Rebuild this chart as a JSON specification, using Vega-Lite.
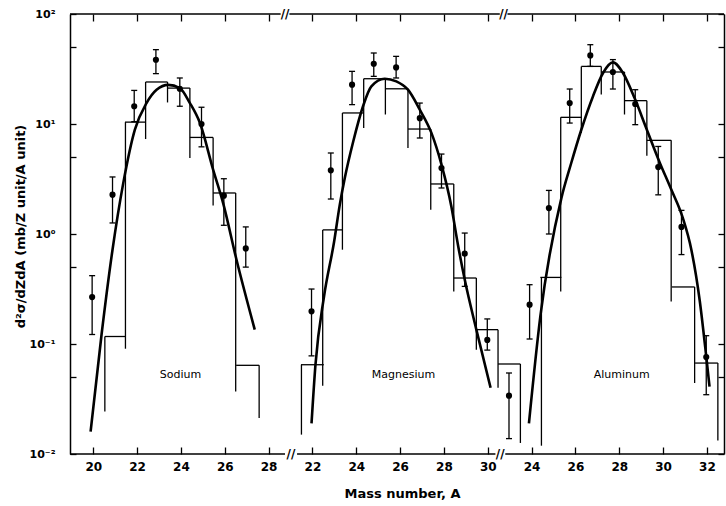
{
  "$schema": "https://vega.github.io/schema/vega-lite/v6.json",
  "width": 654,
  "height": 440,
  "autosize": {"type": "none"},
  "padding": {"left": 70, "top": 14, "right": 2, "bottom": 52},
  "background": "white",
  "config": {
    "view": {"stroke": null},
    "axis": {"domainColor": "black", "tickColor": "black", "labelColor": "black", "titleColor": "black", "grid": false}
  },
  "datasets": {
    "hist": [
      {"panel": "Sodium", "x1": 20.53, "x2": 21.49, "v": 0.117},
      {"panel": "Sodium", "x1": 21.45, "x2": 22.39, "v": 10.4},
      {"panel": "Sodium", "x1": 22.39, "x2": 23.39, "v": 24.1},
      {"panel": "Sodium", "x1": 23.39, "x2": 24.41, "v": 21.2},
      {"panel": "Sodium", "x1": 24.41, "x2": 25.47, "v": 7.55},
      {"panel": "Sodium", "x1": 25.47, "x2": 26.5, "v": 2.36},
      {"panel": "Sodium", "x1": 26.52, "x2": 27.57, "v": 0.064},
      {"panel": "Magnesium", "x1": 29.48, "x2": 30.52, "v": 0.0648},
      {"panel": "Magnesium", "x1": 30.47, "x2": 31.37, "v": 1.09},
      {"panel": "Magnesium", "x1": 31.37, "x2": 32.34, "v": 12.6},
      {"panel": "Magnesium", "x1": 32.34, "x2": 33.33, "v": 25.8},
      {"panel": "Magnesium", "x1": 33.33, "x2": 34.36, "v": 20.9},
      {"panel": "Magnesium", "x1": 34.36, "x2": 35.4, "v": 9.0},
      {"panel": "Magnesium", "x1": 35.4, "x2": 36.45, "v": 2.85},
      {"panel": "Magnesium", "x1": 36.45, "x2": 37.48, "v": 0.398},
      {"panel": "Magnesium", "x1": 37.48, "x2": 38.47, "v": 0.135},
      {"panel": "Magnesium", "x1": 38.47, "x2": 39.49, "v": 0.0658},
      {"panel": "Aluminum", "x1": 40.4, "x2": 41.36, "v": 0.403},
      {"panel": "Aluminum", "x1": 41.33, "x2": 42.27, "v": 11.5},
      {"panel": "Aluminum", "x1": 42.27, "x2": 43.18, "v": 33.4},
      {"panel": "Aluminum", "x1": 43.18, "x2": 44.24, "v": 29.7},
      {"panel": "Aluminum", "x1": 44.24, "x2": 45.26, "v": 16.3},
      {"panel": "Aluminum", "x1": 45.26, "x2": 46.37, "v": 7.1},
      {"panel": "Aluminum", "x1": 46.4, "x2": 47.44, "v": 0.33},
      {"panel": "Aluminum", "x1": 47.46, "x2": 48.5, "v": 0.0671}
    ],
    "legs": [
      {"panel": "Sodium", "x": 20.53, "top": 0.117, "bottom": 0.0244},
      {"panel": "Sodium", "x": 21.47, "top": 10.4, "bottom": 0.0906},
      {"panel": "Sodium", "x": 22.39, "top": 24.1, "bottom": 7.3},
      {"panel": "Sodium", "x": 23.39, "top": 24.1, "bottom": 15.7},
      {"panel": "Sodium", "x": 24.41, "top": 21.2, "bottom": 4.9},
      {"panel": "Sodium", "x": 25.47, "top": 7.55, "bottom": 1.82},
      {"panel": "Sodium", "x": 26.5, "top": 2.36, "bottom": 0.037},
      {"panel": "Sodium", "x": 27.57, "top": 0.064, "bottom": 0.0212},
      {"panel": "Magnesium", "x": 29.5, "top": 0.0648, "bottom": 0.015},
      {"panel": "Magnesium", "x": 30.47, "top": 1.09, "bottom": 0.0418},
      {"panel": "Magnesium", "x": 31.37, "top": 12.6, "bottom": 0.72},
      {"panel": "Magnesium", "x": 32.34, "top": 25.8, "bottom": 9.2},
      {"panel": "Magnesium", "x": 33.33, "top": 25.8, "bottom": 12.2},
      {"panel": "Magnesium", "x": 34.36, "top": 20.9, "bottom": 6.05},
      {"panel": "Magnesium", "x": 35.4, "top": 9.0, "bottom": 1.66},
      {"panel": "Magnesium", "x": 36.45, "top": 2.85, "bottom": 0.3},
      {"panel": "Magnesium", "x": 37.48, "top": 0.398, "bottom": 0.0887},
      {"panel": "Magnesium", "x": 38.47, "top": 0.135, "bottom": 0.04},
      {"panel": "Magnesium", "x": 39.49, "top": 0.0658, "bottom": 0.0126},
      {"panel": "Aluminum", "x": 40.45, "top": 0.403, "bottom": 0.0119},
      {"panel": "Aluminum", "x": 41.33, "top": 11.5, "bottom": 0.3},
      {"panel": "Aluminum", "x": 42.27, "top": 33.4, "bottom": 8.3},
      {"panel": "Aluminum", "x": 43.18, "top": 33.4, "bottom": 18.5},
      {"panel": "Aluminum", "x": 44.24, "top": 29.7, "bottom": 12.2},
      {"panel": "Aluminum", "x": 45.26, "top": 16.3, "bottom": 5.15},
      {"panel": "Aluminum", "x": 46.37, "top": 7.1, "bottom": 0.244},
      {"panel": "Aluminum", "x": 47.44, "top": 0.33, "bottom": 0.0442},
      {"panel": "Aluminum", "x": 48.5, "top": 0.0671, "bottom": 0.0133}
    ],
    "pts": [
      {"panel": "Sodium", "x": 19.95, "v": 0.267, "lo": 0.122, "hi": 0.418},
      {"panel": "Sodium", "x": 20.88, "v": 2.28, "lo": 1.26, "hi": 3.3},
      {"panel": "Sodium", "x": 21.87, "v": 14.5, "lo": 10.5, "hi": 20.2},
      {"panel": "Sodium", "x": 22.86, "v": 38.4, "lo": 28.7, "hi": 47.4},
      {"panel": "Sodium", "x": 23.95, "v": 20.9, "lo": 14.5, "hi": 26.2},
      {"panel": "Sodium", "x": 24.94, "v": 10.0, "lo": 6.2, "hi": 14.2},
      {"panel": "Sodium", "x": 25.96, "v": 2.23, "lo": 1.2, "hi": 3.18},
      {"panel": "Sodium", "x": 26.96, "v": 0.74, "lo": 0.5, "hi": 1.16},
      {"panel": "Magnesium", "x": 29.96, "v": 0.198, "lo": 0.078, "hi": 0.316},
      {"panel": "Magnesium", "x": 30.84, "v": 3.79, "lo": 2.08, "hi": 5.45},
      {"panel": "Magnesium", "x": 31.81, "v": 22.8, "lo": 15.0, "hi": 30.1},
      {"panel": "Magnesium", "x": 32.8, "v": 35.3, "lo": 27.1, "hi": 44.2},
      {"panel": "Magnesium", "x": 33.82, "v": 32.7, "lo": 26.2, "hi": 41.2},
      {"panel": "Magnesium", "x": 34.9, "v": 11.3, "lo": 7.46, "hi": 15.5},
      {"panel": "Magnesium", "x": 35.89, "v": 3.98, "lo": 2.62, "hi": 5.33},
      {"panel": "Magnesium", "x": 36.95, "v": 0.662, "lo": 0.334, "hi": 1.02},
      {"panel": "Magnesium", "x": 37.98, "v": 0.109, "lo": 0.088, "hi": 0.169},
      {"panel": "Magnesium", "x": 38.97, "v": 0.0339, "lo": 0.0138, "hi": 0.0545},
      {"panel": "Aluminum", "x": 39.91, "v": 0.228, "lo": 0.111, "hi": 0.346},
      {"panel": "Aluminum", "x": 40.79, "v": 1.72, "lo": 1.0, "hi": 2.49},
      {"panel": "Aluminum", "x": 41.74, "v": 15.5, "lo": 10.2, "hi": 20.8},
      {"panel": "Aluminum", "x": 42.68, "v": 42.0, "lo": 33.4, "hi": 52.6},
      {"panel": "Aluminum", "x": 43.71, "v": 29.7, "lo": 20.8, "hi": 38.5},
      {"panel": "Aluminum", "x": 44.73, "v": 15.2, "lo": 9.86, "hi": 20.5},
      {"panel": "Aluminum", "x": 45.78, "v": 4.06, "lo": 2.27, "hi": 6.25},
      {"panel": "Aluminum", "x": 46.84, "v": 1.16, "lo": 0.65, "hi": 1.64},
      {"panel": "Aluminum", "x": 47.97, "v": 0.076, "lo": 0.0346, "hi": 0.119}
    ],
    "curve": [
      {"panel": "Sodium", "x": 19.88, "v": 0.016},
      {"panel": "Sodium", "x": 20.38, "v": 0.122},
      {"panel": "Sodium", "x": 20.88, "v": 0.72},
      {"panel": "Sodium", "x": 21.37, "v": 2.9},
      {"panel": "Sodium", "x": 21.9, "v": 8.9},
      {"panel": "Sodium", "x": 22.43, "v": 15.5},
      {"panel": "Sodium", "x": 22.89, "v": 20.5},
      {"panel": "Sodium", "x": 23.42, "v": 22.7},
      {"panel": "Sodium", "x": 23.95, "v": 21.2},
      {"panel": "Sodium", "x": 24.41, "v": 15.5},
      {"panel": "Sodium", "x": 24.87, "v": 10.2},
      {"panel": "Sodium", "x": 25.47, "v": 3.85},
      {"panel": "Sodium", "x": 25.93, "v": 1.9},
      {"panel": "Sodium", "x": 26.54, "v": 0.58},
      {"panel": "Sodium", "x": 27.37, "v": 0.135},
      {"panel": "Magnesium", "x": 29.96, "v": 0.019},
      {"panel": "Magnesium", "x": 30.14, "v": 0.065},
      {"panel": "Magnesium", "x": 30.53, "v": 0.27},
      {"panel": "Magnesium", "x": 30.99, "v": 0.85},
      {"panel": "Magnesium", "x": 31.25, "v": 1.85},
      {"panel": "Magnesium", "x": 31.48, "v": 3.25},
      {"panel": "Magnesium", "x": 31.86, "v": 6.9},
      {"panel": "Magnesium", "x": 32.31, "v": 14.5},
      {"panel": "Magnesium", "x": 32.69, "v": 22.0},
      {"panel": "Magnesium", "x": 33.3, "v": 25.8},
      {"panel": "Magnesium", "x": 33.83, "v": 24.4},
      {"panel": "Magnesium", "x": 34.36, "v": 20.5},
      {"panel": "Magnesium", "x": 34.9, "v": 13.5},
      {"panel": "Magnesium", "x": 35.43, "v": 8.3},
      {"panel": "Magnesium", "x": 35.89, "v": 4.27},
      {"panel": "Magnesium", "x": 36.34, "v": 1.78},
      {"panel": "Magnesium", "x": 36.64, "v": 0.8},
      {"panel": "Magnesium", "x": 36.95, "v": 0.385},
      {"panel": "Magnesium", "x": 37.48, "v": 0.135},
      {"panel": "Magnesium", "x": 38.13, "v": 0.04},
      {"panel": "Aluminum", "x": 39.88, "v": 0.019},
      {"panel": "Aluminum", "x": 40.4, "v": 0.178},
      {"panel": "Aluminum", "x": 41.36, "v": 2.12},
      {"panel": "Aluminum", "x": 41.81, "v": 4.42},
      {"panel": "Aluminum", "x": 42.27, "v": 8.87},
      {"panel": "Aluminum", "x": 42.8, "v": 17.8},
      {"panel": "Aluminum", "x": 43.26, "v": 29.1},
      {"panel": "Aluminum", "x": 43.71, "v": 36.3},
      {"panel": "Aluminum", "x": 44.17, "v": 29.1},
      {"panel": "Aluminum", "x": 44.7, "v": 17.2},
      {"panel": "Aluminum", "x": 45.23, "v": 9.2},
      {"panel": "Aluminum", "x": 45.84, "v": 4.5},
      {"panel": "Aluminum", "x": 46.37, "v": 2.55},
      {"panel": "Aluminum", "x": 46.9, "v": 1.4},
      {"panel": "Aluminum", "x": 47.29, "v": 0.72},
      {"panel": "Aluminum", "x": 47.67, "v": 0.25},
      {"panel": "Aluminum", "x": 47.97, "v": 0.077},
      {"panel": "Aluminum", "x": 48.12, "v": 0.041}
    ],
    "names": [
      {"label": "Sodium", "x": 23.98, "v": 0.0526},
      {"label": "Magnesium", "x": 34.16, "v": 0.0528},
      {"label": "Aluminum", "x": 44.11, "v": 0.0528}
    ],
    "frame": [
      {"x1": 18.94, "x2": 28.75, "v": 0.01},
      {"x1": 29.3, "x2": 38.35, "v": 0.01},
      {"x1": 38.8, "x2": 48.78, "v": 0.01},
      {"x1": 18.94, "x2": 28.55, "v": 100},
      {"x1": 28.95, "x2": 38.55, "v": 100},
      {"x1": 38.9, "x2": 48.78, "v": 100}
    ],
    "breaks": [
      {"x": 29.02, "v": 0.01, "mark": "//"},
      {"x": 38.57, "v": 0.01, "mark": "//"},
      {"x": 28.75, "v": 100, "mark": "//"},
      {"x": 38.72, "v": 100, "mark": "//"}
    ]
  },
  "resolve": {"axis": {"x": "independent", "y": "independent"}},
  "layer": [
    {
      "data": {"name": "hist"},
      "mark": {"type": "rule", "strokeWidth": 1.3, "color": "black"},
      "encoding": {
        "x": {
          "field": "x1", "type": "quantitative",
          "scale": {"domain": [18.94, 48.78], "nice": false, "zero": false},
          "axis": {
            "orient": "bottom",
            "values": [20, 22, 24, 26, 28, 30, 32, 34, 36, 38, 40, 42, 44, 46, 48],
            "domain": false,
            "tickSize": -7,
            "tickWidth": 1.3,
            "labelPadding": 14,
            "labelExpr": "datum.value <= 28 ? '' + datum.value : (datum.value <= 38 ? '' + (datum.value - 8) : '' + (datum.value - 16))",
            "labelFont": "DejaVu Sans",
            "labelFontSize": 12,
            "labelFontWeight": "bold",
            "labelOverlap": false,
            "labelFlush": false,
            "title": "Mass number, A",
            "titleFont": "DejaVu Sans",
            "titleFontSize": 13,
            "titleFontWeight": "bold",
            "titleX": 332,
            "titleY": 39,
            "titleAlign": "center",
            "titleBaseline": "middle"
          }
        },
        "x2": {"field": "x2"},
        "y": {
          "field": "v", "type": "quantitative",
          "scale": {"type": "log", "domain": [0.01, 100], "nice": false},
          "axis": {
            "orient": "left",
            "values": [0.01, 0.05, 0.1, 0.5, 1, 5, 10, 50, 100],
            "domain": true,
            "domainWidth": 1.5,
            "tickSize": -6,
            "tickWidth": 1.3,
            "labelPadding": 21,
            "labelExpr": "datum.value == 100 ? '10²' : datum.value == 10 ? '10¹' : datum.value == 1 ? '10⁰' : datum.value == 0.1 ? '10⁻¹' : datum.value == 0.01 ? '10⁻²' : ''",
            "labelFont": "DejaVu Sans",
            "labelFontSize": 11,
            "labelFontWeight": "bold",
            "labelBaseline": "middle",
            "labelOverlap": false,
            "labelFlush": false,
            "title": "d²σ/dZdA  (mb/Z unit/A unit)",
            "titleFont": "DejaVu Sans",
            "titleFontSize": 13,
            "titleFontWeight": "bold",
            "titleAngle": -90,
            "titleX": -50,
            "titleY": 212,
            "titleAlign": "center",
            "titleBaseline": "middle"
          }
        }
      }
    },
    {
      "data": {"name": "legs"},
      "mark": {"type": "rule", "strokeWidth": 1.3, "color": "black"},
      "encoding": {
        "x": {
          "field": "x", "type": "quantitative",
          "scale": {"domain": [18.94, 48.78], "nice": false, "zero": false},
          "axis": {
            "orient": "top",
            "values": [20, 22, 24, 26, 28, 30, 32, 34, 36, 38, 40, 42, 44, 46, 48],
            "domain": false,
            "labels": false,
            "tickSize": -7,
            "tickWidth": 1.3,
            "title": null
          }
        },
        "y": {
          "field": "top", "type": "quantitative",
          "scale": {"type": "log", "domain": [0.01, 100], "nice": false},
          "axis": {
            "orient": "right",
            "values": [0.01, 0.05, 0.1, 0.5, 1, 5, 10, 50, 100],
            "domain": true,
            "domainWidth": 1.5,
            "labels": false,
            "tickSize": -6,
            "tickWidth": 1.3,
            "title": null
          }
        },
        "y2": {"field": "bottom"}
      }
    },
    {
      "data": {"name": "pts"},
      "mark": {"type": "rule", "strokeWidth": 1.3, "color": "black"},
      "encoding": {
        "x": {"field": "x", "type": "quantitative", "scale": {"domain": [18.94, 48.78], "nice": false, "zero": false}, "axis": null},
        "y": {"field": "lo", "type": "quantitative", "scale": {"type": "log", "domain": [0.01, 100], "nice": false}, "axis": null},
        "y2": {"field": "hi"}
      }
    },
    {
      "data": {"name": "pts"},
      "mark": {"type": "tick", "orient": "horizontal", "size": 6, "thickness": 1.3, "color": "black", "opacity": 1},
      "encoding": {
        "x": {"field": "x", "type": "quantitative", "scale": {"domain": [18.94, 48.78], "nice": false, "zero": false}, "axis": null},
        "y": {"field": "lo", "type": "quantitative", "scale": {"type": "log", "domain": [0.01, 100], "nice": false}, "axis": null}
      }
    },
    {
      "data": {"name": "pts"},
      "mark": {"type": "tick", "orient": "horizontal", "size": 6, "thickness": 1.3, "color": "black", "opacity": 1},
      "encoding": {
        "x": {"field": "x", "type": "quantitative", "scale": {"domain": [18.94, 48.78], "nice": false, "zero": false}, "axis": null},
        "y": {"field": "hi", "type": "quantitative", "scale": {"type": "log", "domain": [0.01, 100], "nice": false}, "axis": null}
      }
    },
    {
      "data": {"name": "pts"},
      "mark": {"type": "point", "filled": true, "size": 38, "color": "black", "opacity": 1},
      "encoding": {
        "x": {"field": "x", "type": "quantitative", "scale": {"domain": [18.94, 48.78], "nice": false, "zero": false}, "axis": null},
        "y": {"field": "v", "type": "quantitative", "scale": {"type": "log", "domain": [0.01, 100], "nice": false}, "axis": null}
      }
    },
    {
      "data": {"name": "curve"},
      "mark": {"type": "line", "interpolate": "monotone", "strokeWidth": 2.6, "color": "black"},
      "encoding": {
        "x": {"field": "x", "type": "quantitative", "scale": {"domain": [18.94, 48.78], "nice": false, "zero": false}, "axis": null},
        "y": {"field": "v", "type": "quantitative", "scale": {"type": "log", "domain": [0.01, 100], "nice": false}, "axis": null},
        "detail": {"field": "panel", "type": "nominal"}
      }
    },
    {
      "data": {"name": "names"},
      "mark": {"type": "text", "font": "DejaVu Sans", "fontSize": 11, "align": "center", "baseline": "middle", "color": "black"},
      "encoding": {
        "x": {"field": "x", "type": "quantitative", "scale": {"domain": [18.94, 48.78], "nice": false, "zero": false}, "axis": null},
        "y": {"field": "v", "type": "quantitative", "scale": {"type": "log", "domain": [0.01, 100], "nice": false}, "axis": null},
        "text": {"field": "label", "type": "nominal"}
      }
    },
    {
      "data": {"name": "frame"},
      "mark": {"type": "rule", "strokeWidth": 1.5, "color": "black"},
      "encoding": {
        "x": {"field": "x1", "type": "quantitative", "scale": {"domain": [18.94, 48.78], "nice": false, "zero": false}, "axis": null},
        "x2": {"field": "x2"},
        "y": {"field": "v", "type": "quantitative", "scale": {"type": "log", "domain": [0.01, 100], "nice": false}, "axis": null}
      }
    },
    {
      "data": {"name": "breaks"},
      "mark": {"type": "text", "font": "DejaVu Sans", "fontSize": 12, "fontWeight": "bold", "align": "center", "baseline": "middle", "color": "black"},
      "encoding": {
        "x": {"field": "x", "type": "quantitative", "scale": {"domain": [18.94, 48.78], "nice": false, "zero": false}, "axis": null},
        "y": {"field": "v", "type": "quantitative", "scale": {"type": "log", "domain": [0.01, 100], "nice": false}, "axis": null},
        "text": {"field": "mark", "type": "nominal"}
      }
    }
  ]
}
